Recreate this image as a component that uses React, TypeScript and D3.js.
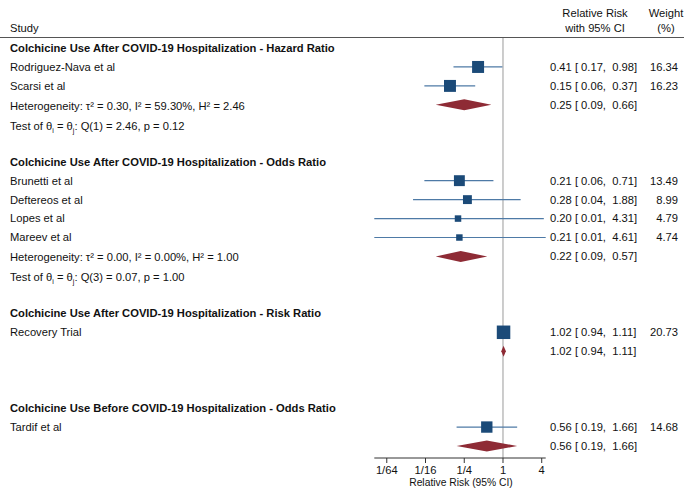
import * as d3 from "d3";

// Données
const groupTitles = [
	"Colchicine Use After COVID-19 Hospitalization - Hazard Ratio",
	"Colchicine Use After COVID-19 Hospitalization - Odds Ratio",
	"Colchicine Use After COVID-19 Hospitalization - Risk Ratio",
	"Colchicine Use Before COVID-19 Hospitalization - Odds Ratio",
];
const studyNames = [
	"Rodriguez-Nava et al",
	"Scarsi et al",
	"Brunetti et al",
	"Deftereos et al",
	"Lopes et al",
	"Mareev et al",
	"Recovery Trial",
	"Tardif et al",
];
const studyGroup = [0, 0, 1, 1, 1, 1, 2, 3];
const studyRR = [0.41, 0.15, 0.21, 0.28, 0.2, 0.21, 1.02, 0.56];
const studyLo = [0.17, 0.06, 0.06, 0.04, 0.01, 0.01, 0.94, 0.19];
const studyHi = [0.98, 0.37, 0.71, 1.88, 4.31, 4.61, 1.11, 1.66];
const studyWeight = [16.34, 16.23, 13.49, 8.99, 4.79, 4.74, 20.73, 14.68];
const pooledRR = [0.25, 0.22, 1.02, 0.56];
const pooledLo = [0.09, 0.09, 0.94, 0.19];
const pooledHi = [0.66, 0.57, 1.11, 1.66];
const heterogeneity = [
	"Heterogeneity: τ² = 0.30, I² = 59.30%, H² = 2.46",
	"Heterogeneity: τ² = 0.00, I² = 0.00%, H² = 1.00",
	"",
	"",
];
const testQ = ["Q(1) = 2.46, p = 0.12", "Q(3) = 0.07, p = 1.00", "", ""];
const tickValues = [1 / 64, 1 / 16, 1 / 4, 1, 4];
const tickLabels = ["1/64", "1/16", "1/4", "1", "4"];

const W = 684;
const H = 490;
const font = "'Liberation Sans', Arial, Helvetica, sans-serif";
const navy = "#1b4a78";
const ciBlue = "#4e7aa6";
const red = "#8e2b35";

type Row =
	| { kind: "header"; g: number }
	| { kind: "study"; i: number }
	| { kind: "pooled"; g: number }
	| { kind: "test"; g: number }
	| { kind: "blank" };

const rows: Row[] = [];
groupTitles.forEach((_t, g) => {
	rows.push({ kind: "header", g });
	studyNames.forEach((_n, i) => {
		if (studyGroup[i] === g) rows.push({ kind: "study", i });
	});
	rows.push({ kind: "pooled", g });
	rows.push({ kind: "test", g });
	rows.push({ kind: "blank" });
});

const fmt = (v: number) => v.toFixed(2);
const ciText = (e: number, l: number, h: number) =>
	`${fmt(e)} [${fmt(l).padStart(5)}, ${fmt(h).padStart(5)}]`;

const App = () => {
	const y = d3.scaleLinear().domain([0, 21]).range([48, 446]);
	const x = d3
		.scaleLog()
		.base(2)
		.domain([d3.min(studyLo) as number, d3.max(studyHi) as number])
		.range([374.3, 545.7]);
	const size = d3
		.scaleSqrt()
		.domain([0, d3.max(studyWeight) as number])
		.range([0, 13.5]);

	const axisY = 458;
	const textStyle = { fontFamily: font, fontSize: 11.2, fill: "#111" };

	return (
		<svg width={W} height={H} style={{ position: "absolute", left: 0, top: 0 }}>
			<rect width={W} height={H} fill="#fff" />
			{/* En-têtes */}
			<g style={textStyle}>
				<text x={10} y={32}>Study</text>
				<text x={595} y={17} textAnchor="middle">Relative Risk</text>
				<text x={595} y={32} textAnchor="middle">with 95% CI</text>
				<text x={666} y={17} textAnchor="middle">Weight</text>
				<text x={666} y={32} textAnchor="middle">(%)</text>
			</g>
			<line x1={0} x2={W} y1={37.5} y2={37.5} stroke="#555" strokeWidth={1} />

			{/* Ligne de référence */}
			<line x1={x(1)} x2={x(1)} y1={38} y2={axisY} stroke="#9a9a9a" strokeWidth={1} />

			{rows.map((r, k) => {
				const cy = y(k);
				if (r.kind === "header") {
					return (
						<text key={k} x={10} y={cy} dy="0.35em" style={{ ...textStyle, fontWeight: "bold" }}>
							{groupTitles[r.g]}
						</text>
					);
				}
				if (r.kind === "study") {
					const i = r.i;
					const s = size(studyWeight[i]);
					return (
						<g key={k}>
							<text x={10} y={cy} dy="0.35em" style={textStyle}>{studyNames[i]}</text>
							<line x1={x(studyLo[i])} x2={x(studyHi[i])} y1={cy} y2={cy} stroke={ciBlue} strokeWidth={1.2} />
							<rect x={x(studyRR[i]) - s / 2} y={cy - s / 2} width={s} height={s} fill={navy} />
							<text x={550} y={cy} dy="0.35em" style={{ ...textStyle, whiteSpace: "pre" }}>
								{ciText(studyRR[i], studyLo[i], studyHi[i])}
							</text>
							<text x={678} y={cy} dy="0.35em" textAnchor="end" style={textStyle}>
								{studyWeight[i].toFixed(2)}
							</text>
						</g>
					);
				}
				if (r.kind === "pooled") {
					const g = r.g;
					const d = `M${x(pooledLo[g])},${cy} L${x(pooledRR[g])},${cy - 5.5} L${x(pooledHi[g])},${cy} L${x(pooledRR[g])},${cy + 5.5} Z`;
					return (
						<g key={k}>
							{heterogeneity[g] && (
								<text x={10} y={cy + 1} dy="0.35em" style={textStyle}>{heterogeneity[g]}</text>
							)}
							<path d={d} fill={red} />
							<text x={550} y={cy} dy="0.35em" style={{ ...textStyle, whiteSpace: "pre" }}>
								{ciText(pooledRR[g], pooledLo[g], pooledHi[g])}
							</text>
						</g>
					);
				}
				if (r.kind === "test" && testQ[r.g]) {
					return (
						<text key={k} x={10} y={cy + 2} dy="0.35em" style={textStyle}>
							Test of θ<tspan dy={3} fontSize={7}>i</tspan>
							<tspan dy={-3}> = θ</tspan>
							<tspan dy={3} fontSize={7}>j</tspan>
							<tspan dy={-3}>: {testQ[r.g]}</tspan>
						</text>
					);
				}
				return null;
			})}

			{/* Axe X */}
			<g>
				<line x1={x.range()[0]} x2={x.range()[1]} y1={axisY} y2={axisY} stroke="#333" strokeWidth={1} />
				{tickValues.map((t, i) => (
					<g key={i}>
						<line x1={x(t)} x2={x(t)} y1={axisY} y2={axisY + 5} stroke="#333" />
						<text x={x(t)} y={axisY + 16} textAnchor="middle" style={textStyle}>
							{tickLabels[i]}
						</text>
					</g>
				))}
				<text x={x(1) - 42} y={axisY + 28} textAnchor="middle" style={{ ...textStyle, fontSize: 10.3 }}>
					Relative Risk (95% CI)
				</text>
			</g>
		</svg>
	);
};

export default App;
